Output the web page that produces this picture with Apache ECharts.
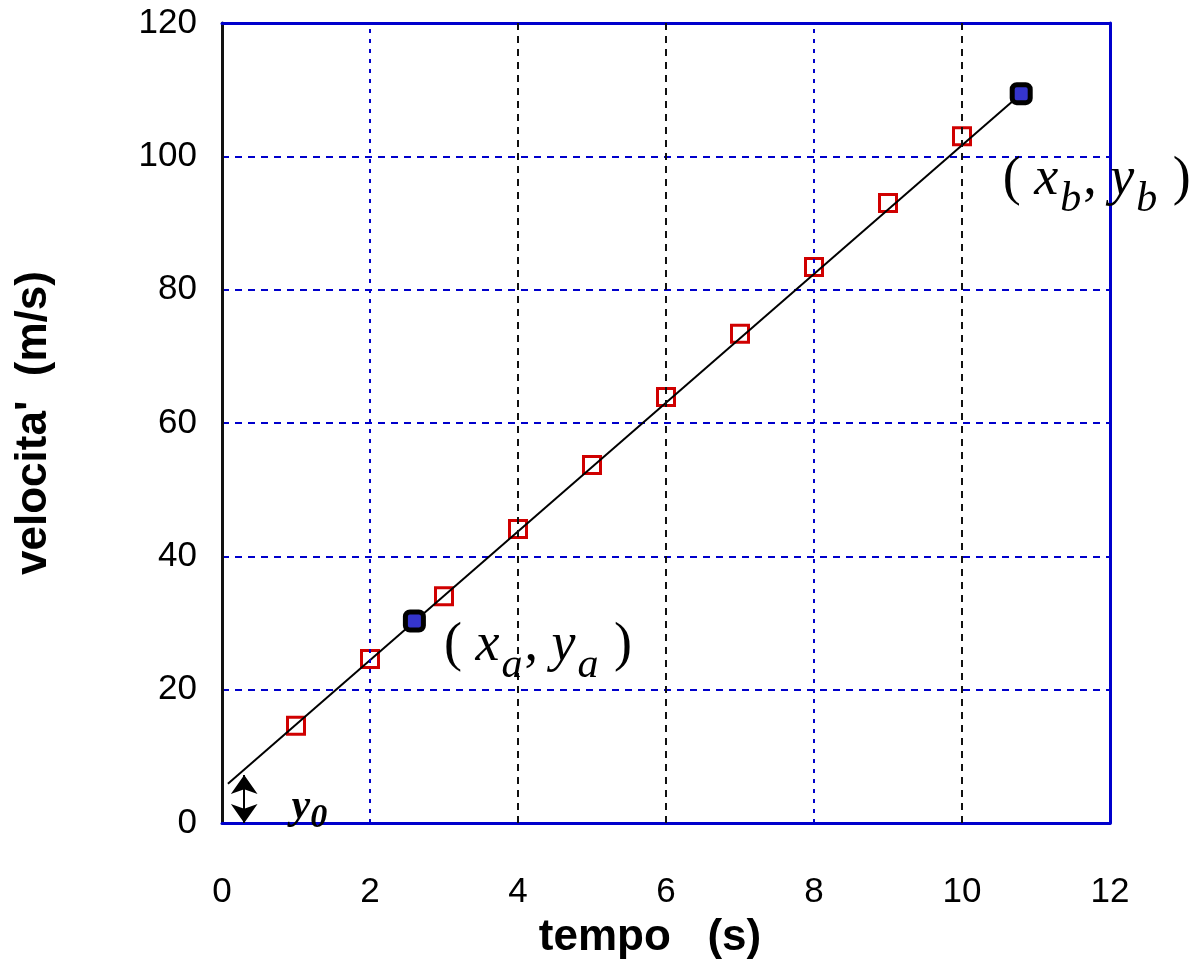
<!DOCTYPE html>
<html lang="it">
<head>
    <meta charset="UTF-8">
    <title>velocita vs tempo</title>
    <script src="https://cdn.jsdelivr.net/npm/echarts@6/dist/echarts.min.js"></script>
</head>
<body style="margin:0;background:#fff">
    <div id="box" style="width:1195px;height:961px;"></div>
</body>
<script>
    // misure (quadrati rossi)
    var tempo = [1, 2, 3, 4, 5, 6, 7, 8, 9, 10];
    var velocita = [14.6, 24.6, 34, 44.1, 53.7, 63.9, 73.4, 83.4, 93, 103];
    // retta
    var rettaX = [0.08, 10.8];
    var rettaY = [5.9, 109.4];
    // punti (xa,ya) e (xb,yb)
    var puntiX = [2.6, 10.8];
    var puntiY = [30.3, 109.4];
    // griglia verticale
    var lineeBlu = [2, 8];
    var lineeNere = [4, 6, 10];
    // freccia y0
    var frecciaX = 0.3;
    var frecciaY = [0, 7.2];

    var blu = '#0000cc';
    var serif = '"Liberation Serif", "DejaVu Serif", serif';

    var mEcharts = echarts.init(document.querySelector('#box'));

    var misure = tempo.map(function (t, i) { return [t, velocita[i]]; });
    var retta = rettaX.map(function (t, i) { return [t, rettaY[i]]; });
    var punti = puntiX.map(function (t, i) { return [t, puntiY[i]]; });

    var vLines = [];
    lineeBlu.forEach(function (v) {
        vLines.push({ xAxis: v, lineStyle: { color: blu, type: [4, 6], width: 2 } });
    });
    lineeNere.forEach(function (v) {
        vLines.push({ xAxis: v, lineStyle: { color: '#111', type: [7, 6], width: 2 } });
    });

    // testo con pedici: tutti allineati in alto, il pedice spinto giu' col padding
    var subRich = {
        p: { fontFamily: serif, fontSize: 54, color: '#000', lineHeight: 58, verticalAlign: 'top' },
        v: { fontFamily: serif, fontSize: 54, fontStyle: 'italic', color: '#000', lineHeight: 58, verticalAlign: 'top' },
        s: { fontFamily: serif, fontSize: 42, fontStyle: 'italic', color: '#000', lineHeight: 42, verticalAlign: 'top', padding: [26, 2, 0, 2] }
    };
    var etichetta = {
        symbol: 'circle', symbolSize: 1,
        itemStyle: { color: 'rgba(0,0,0,0)' }
    };

    var option = {
        animation: false,
        backgroundColor: '#fff',
        grid: { left: 222, top: 23, right: 85, bottom: 138, outerBoundsMode: 'none' },
        xAxis: [{
            type: 'value', min: 0, max: 12, interval: 2, z: 3,
            name: 'tempo   (s)', nameLocation: 'middle', nameGap: 93,
            nameTextStyle: { fontFamily: 'Liberation Sans', fontWeight: 'bold', fontSize: 44, color: '#000', padding: [0, 32, 0, 0] },
            axisLine: { onZero: false, lineStyle: { color: blu, width: 3 } },
            axisTick: { show: false },
            axisLabel: { margin: 52, fontFamily: 'Liberation Sans', fontSize: 35, color: '#000' },
            splitLine: { show: false }
        }, {
            type: 'value', min: 0, max: 12, position: 'top', z: 3,
            axisLine: { show: true, onZero: false, lineStyle: { color: blu, width: 3 } },
            axisTick: { show: false }, axisLabel: { show: false }, splitLine: { show: false }
        }],
        yAxis: [{
            type: 'value', min: 0, max: 120, interval: 20, z: 3,
            name: "velocita'  (m/s)", nameLocation: 'middle', nameGap: 166,
            nameTextStyle: { fontFamily: 'Liberation Sans', fontWeight: 'bold', fontSize: 44, color: '#000' },
            axisLine: { show: true, onZero: false, lineStyle: { color: '#111', width: 3 } },
            axisTick: { show: false },
            axisLabel: { margin: 25, fontFamily: 'Liberation Sans', fontSize: 35, color: '#000' },
            splitLine: { show: false }
        }, {
            type: 'value', min: 0, max: 120, interval: 20, position: 'right', z: 3,
            axisLine: { show: true, onZero: false, lineStyle: { color: blu, width: 3 } },
            axisTick: { show: false }, axisLabel: { show: false },
            splitLine: { show: true, lineStyle: { color: blu, type: [7, 6], width: 2 } }
        }],
        series: [{
            name: 'griglia',
            type: 'line',
            data: [],
            z: 1,
            markLine: {
                silent: true, symbol: ['none', 'none'], label: { show: false },
                data: vLines
            }
        }, {
            name: 'misure',
            type: 'scatter',
            data: misure,
            symbol: 'rect',
            symbolSize: 17,
            z: 3,
            itemStyle: { color: 'rgba(255,255,255,0)', borderColor: '#d00000', borderWidth: 3, opacity: 1 }
        }, {
            name: 'retta',
            type: 'line',
            data: retta,
            symbol: 'none',
            z: 4,
            lineStyle: { color: '#000', width: 2 },
            markLine: {
                silent: true,
                symbol: ['arrow', 'arrow'], symbolSize: [20, 19],
                label: { show: false },
                lineStyle: { color: '#000', width: 2, type: 'solid' },
                data: [[{ coord: [frecciaX, frecciaY[0]] }, { coord: [frecciaX, frecciaY[1]] }]]
            },
            markPoint: {
                silent: true,
                data: [Object.assign({
                    coord: [4.27, 26.3],
                    label: {
                        show: true, position: 'inside',
                        formatter: '{p|(}{v| x}{s|a}{p|, }{v|y}{s|a}{p| )}',
                        rich: subRich
                    }
                }, etichetta), Object.assign({
                    coord: [11.82, 96.2],
                    label: {
                        show: true, position: 'inside',
                        formatter: '{p|(}{v| x}{s|b}{p|, }{v|y}{s|b}{p| )}',
                        rich: subRich
                    }
                }, etichetta), Object.assign({
                    coord: [1.18, 2.3],
                    label: {
                        show: true, position: 'inside',
                        formatter: '{v|y}{s|0}',
                        rich: {
                            v: { fontFamily: serif, fontSize: 42, fontStyle: 'italic', fontWeight: 'bold', color: '#000', lineHeight: 44, verticalAlign: 'top' },
                            s: { fontFamily: serif, fontSize: 34, fontStyle: 'italic', fontWeight: 'bold', color: '#000', lineHeight: 34, verticalAlign: 'top', padding: [16, 0, 0, 0] }
                        }
                    }
                }, etichetta)]
            }
        }, {
            name: 'punti',
            type: 'scatter',
            data: punti,
            symbol: 'roundRect',
            symbolSize: 18,
            z: 5,
            itemStyle: { color: '#3535cc', borderColor: '#000', borderWidth: 5, opacity: 1 }
        }]
    };
    mEcharts.setOption(option);
</script>
</html>
